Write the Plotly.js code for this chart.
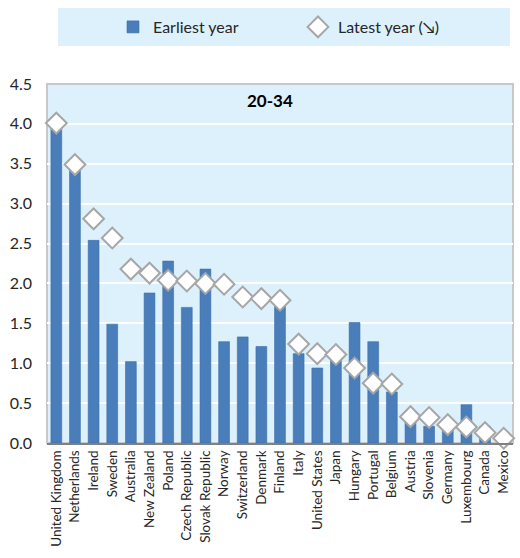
<!DOCTYPE html>
<html>
<head>
<meta charset="utf-8">
<script src="https://cdn.plot.ly/plotly-3.0.1.min.js"></script>
<style>html,body{margin:0;padding:0;background:#fff;}#chart{width:520px;height:558px;}</style>
</head>
<body>
<div id="chart"></div>
<script>
var countries = ["United Kingdom","Netherlands","Ireland","Sweden","Australia","New Zealand","Poland","Czech Republic","Slovak Republic","Norway","Switzerland","Denmark","Finland","Italy","United States","Japan","Hungary","Portugal","Belgium","Austria","Slovenia","Germany","Luxembourg","Canada","Mexico"];
var earliestYear = [3.97,3.45,2.54,1.49,1.02,1.88,2.28,1.70,2.18,1.27,1.33,1.21,1.73,1.12,0.94,1.05,1.51,1.27,0.64,0.27,0.21,0.18,0.48,0.21,0.0];
var latestYear = [4.01,3.49,2.81,2.57,2.18,2.13,2.04,2.03,2.00,1.99,1.83,1.81,1.79,1.24,1.12,1.11,0.94,0.75,0.74,0.33,0.32,0.23,0.20,0.13,0.06];
var seriesNames = ["Earliest year","Latest year (\u2198)"];
var panelTitle = "20-34";

var FONT = "Lato, 'Liberation Sans', sans-serif";
var BG = "#DDF1FC";

var traces = [
  {type:"bar", x:countries, y:earliestYear, name:seriesNames[0],
   marker:{color:"#4A7EBB", line:{color:"#3C6DA8", width:0.6}}},
  {type:"scatter", mode:"markers", x:countries, y:latestYear, name:seriesNames[1], cliponaxis:false,
   marker:{symbol:"diamond", size:16, color:"#FFFFFF", line:{color:"#A6A6A6", width:2}}}
];

var layout = {
  width:520, height:558,
  margin:{l:47, r:7, t:84, b:115, autoexpand:false},
  paper_bgcolor:"#FFFFFF", plot_bgcolor:BG,
  font:{family:FONT, color:"#262626"},
  bargap:0.42,
  showlegend:true,
  legend:{orientation:"h", xref:"container", yref:"container", x:113/520, xanchor:"left",
          y:1-27/558, yanchor:"middle",
          bgcolor:"rgba(0,0,0,0)", font:{size:16, family:FONT, color:"#262626"},
          entrywidth:140, itemwidth:30, traceorder:"normal"},
  xaxis:{type:"category", range:[-0.5, countries.length-0.5], tickangle:-90,
         tickfont:{size:13.5, family:FONT, color:"#262626"},
         showline:true, linecolor:"#808080", linewidth:2, ticks:"", showgrid:false,
         fixedrange:true, automargin:false},
  yaxis:{range:[0,4.5], dtick:0.5, tickformat:".1f", showgrid:true, gridcolor:"#FFFFFF", gridwidth:2,
         tickfont:{size:16, family:FONT, color:"#262626"}, zeroline:false, showline:false,
         ticklabelstandoff:14, fixedrange:true, automargin:false},
  shapes:[
    {type:"rect", xref:"paper", yref:"paper", x0:0.0236, x1:0.9936, y0:1.1058, y1:1.2117,
     fillcolor:BG, line:{width:0}, layer:"below"},
    {type:"rect", xref:"paper", yref:"paper", x0:0, x1:1, y0:0, y1:1,
     fillcolor:"rgba(0,0,0,0)", line:{color:"#C8C8C8", width:2}, layer:"below"}
  ],
  annotations:[
    {text:"<b>"+panelTitle+"</b>", xref:"paper", yref:"paper", x:0.478, y:0.955,
     showarrow:false, font:{size:17, family:FONT, color:"#000000"}, xanchor:"center", yanchor:"middle"}
  ]
};

Plotly.newPlot("chart", traces, layout, {displayModeBar:false, staticPlot:true});
</script>
</body>
</html>
